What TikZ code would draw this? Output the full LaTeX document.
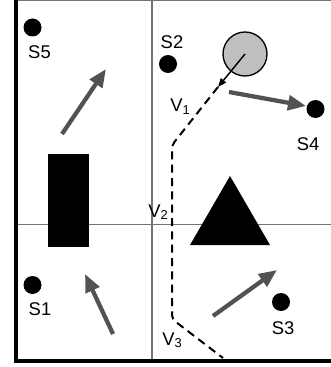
\documentclass[tikz,border=0pt]{standalone}
\usepackage{fontspec}
\setmainfont{Liberation Sans}
\usetikzlibrary{arrows.meta,positioning}

\tikzset{
  grid/.style={draw=black!55,line width=0.8pt},
  wall/.style={line width=3pt},
  dot/.style={circle,fill=black,inner sep=0pt,minimum size=13.5pt},
  ball/.style={circle,draw,fill=black!25,line width=1pt,inner sep=0pt,minimum size=33pt},
  lbl/.style={inner sep=0pt,font=\fontsize{13.8}{16}\selectfont},
  push/.style={draw=black!68,line width=3.2pt,-{Triangle[length=13.5pt,width=11pt]}},
  move/.style={line width=1.1pt,-{Triangle[length=6.5pt,width=5pt]}},
  route/.style={line width=1.5pt,dash pattern=on 6pt off 4pt,rounded corners=3pt}
}

\begin{document}
\begin{tikzpicture}[x=0.75pt,y=-0.75pt]
\useasboundingbox (0,0) rectangle (331,367);
% room and its quarters
\draw[grid] (15,0.6) -- (331,0.6); \draw[grid] (152,0.6) -- (152,361); \draw[grid] (15,224.5) -- (331,224.5);
\draw[wall] (15.5,0) -- (15.5,361) -- (331,361);

% obstacles
\fill (48,154) rectangle (89,247);
\fill (230,176) -- (270,245) -- (190,245) -- cycle;

% sensors
\node[dot] (s1) at (32.5,285) {}; \node[lbl] (s1l) at (40,309) {S1};
\node[dot] (s2) at (168,64) {};   \node[lbl] (s2l) at (172,42) {S2};
\node[dot] (s3) at (281,302) {};  \node[lbl] (s3l) at (283,328) {S3};
\node[dot] (s4) at (315.5,109) {}; \node[lbl] (s4l) at (308,144) {S4};
\node[dot] (s5) at (32.5,27.5) {}; \node[lbl] (s5l) at (39.5,52.5) {S5};

% target and its track
\node[ball] (tgt) at (245,54) {};
\coordinate (p0) at (218,87); \coordinate (p1) at (172,145); \coordinate (p2) at (172,319); \coordinate (p3) at (223,358);
\draw[move] (tgt.center) -- (p0);
\draw[route] (p0) -- (p1) -- (p2) -- (p3);
\node[lbl,anchor=base west] (v1) at (170,112) {V\textsubscript{1}};
\node[lbl,anchor=base west] (v2) at (148,217) {V\textsubscript{2}};
\node[lbl,anchor=base west] (v3) at (162,345) {V\textsubscript{3}};

% pushes
\coordinate (a1) at (62,134);  \coordinate (b1) at (106,69);
\coordinate (a2) at (229,92);  \coordinate (b2) at (306,106);
\coordinate (a3) at (113,334); \coordinate (b3) at (85,274);
\coordinate (a4) at (213,316); \coordinate (b4) at (277,270);
\draw[push] (a1) -- (b1); \draw[push] (a2) -- (b2); \draw[push] (a3) -- (b3); \draw[push] (a4) -- (b4);
\end{tikzpicture}
\end{document}
